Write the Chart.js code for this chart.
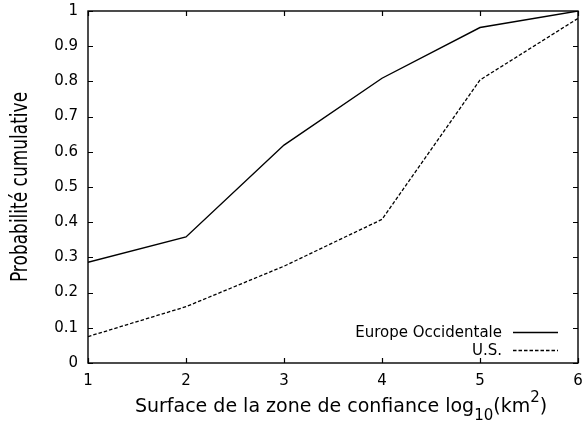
<!DOCTYPE html>
<html>
<head>
<meta charset="utf-8">
<title>Probabilité cumulative</title>
<script src="https://cdn.jsdelivr.net/npm/chart.js@4/dist/chart.umd.min.js"></script>
<style>
  html, body { margin: 0; padding: 0; background: #fff; }
  canvas { display: block; }
</style>
</head>
<body>
<canvas id="chart" width="586" height="421"></canvas>
<script>
// Cumulative probability against log10 of the confidence-zone area
const xValues = [1, 2, 3, 4, 5, 6];
const europeValues = [0.286, 0.358, 0.619, 0.809, 0.953, 1.0];
const usValues = [0.075, 0.160, 0.275, 0.408, 0.804, 0.979];
const seriesLabels = ['Europe Occidentale', 'U.S.'];

const xTickValues = [1, 2, 3, 4, 5, 6];
const xTickLabels = ['1', '2', '3', '4', '5', '6'];
const yTickValues = [0, 0.1, 0.2, 0.3, 0.4, 0.5, 0.6, 0.7, 0.8, 0.9, 1];
const yTickLabels = ['0', '0.1', '0.2', '0.3', '0.4', '0.5', '0.6', '0.7', '0.8', '0.9', '1'];

const yTitle = 'Probabilité cumulative';
// x title pieces: normal text, subscript and superscript runs
const xTitleParts = [
  { text: 'Surface de la zone de confiance log', kind: 'normal' },
  { text: '10', kind: 'sub' },
  { text: '(km', kind: 'normal' },
  { text: '2', kind: 'sup' },
  { text: ')', kind: 'normal' }
];

const FONT = '"DejaVu Sans", "Liberation Sans", sans-serif';
Chart.defaults.color = '#000';
Chart.defaults.font.family = FONT;

const toPoints = (ys) => xValues.map((x, i) => ({ x, y: ys[i] }));

// no extra room around the axes beyond the layout padding
const noBoxPadding = (s) => {
  s.paddingTop = 0; s.paddingBottom = 0; s.paddingLeft = 0; s.paddingRight = 0;
};

// Frame, inward ticks on all four sides, axis titles and key
const framePlugin = {
  id: 'frame',
  afterDraw(chart) {
    const { ctx, chartArea: a, scales } = chart;
    const xs = scales.x, ys = scales.y;
    const tick = 5;
    ctx.save();
    ctx.strokeStyle = '#000';
    ctx.lineWidth = 1.2;
    ctx.beginPath();
    xTickValues.forEach(v => {
      const px = Math.round(xs.getPixelForValue(v)) + 0.5;
      ctx.moveTo(px, a.bottom); ctx.lineTo(px, a.bottom - tick);
      ctx.moveTo(px, a.top); ctx.lineTo(px, a.top + tick);
    });
    yTickValues.forEach(v => {
      const py = Math.round(ys.getPixelForValue(v)) + 0.5;
      ctx.moveTo(a.left, py); ctx.lineTo(a.left + tick, py);
      ctx.moveTo(a.right, py); ctx.lineTo(a.right - tick, py);
    });
    ctx.stroke();
    ctx.lineWidth = 1.4;
    ctx.strokeRect(a.left, a.top, a.right - a.left, a.bottom - a.top);

    // y title, rotated
    ctx.fillStyle = '#000';
    ctx.save();
    ctx.translate(27, (a.top + a.bottom) / 2);
    ctx.scale(1.3, 1);
    ctx.rotate(-Math.PI / 2);
    ctx.font = '17px ' + FONT;
    ctx.textAlign = 'center';
    ctx.textBaseline = 'alphabetic';
    ctx.fillText(yTitle, 0, 0);
    ctx.restore();

    // x title with sub/superscript
    const mainSize = 19, smallSize = 15;
    const widths = xTitleParts.map(p => {
      ctx.font = (p.kind === 'normal' ? mainSize : smallSize) + 'px ' + FONT;
      return ctx.measureText(p.text).width;
    });
    const total = widths.reduce((s, w) => s + w, 0);
    let cx = (a.left + a.right) / 2 + 8 - total / 2;
    const base = 412;
    ctx.textAlign = 'left';
    ctx.textBaseline = 'alphabetic';
    xTitleParts.forEach((p, i) => {
      ctx.font = (p.kind === 'normal' ? mainSize : smallSize) + 'px ' + FONT;
      const dy = p.kind === 'sub' ? 8 : p.kind === 'sup' ? -10 : 0;
      ctx.fillText(p.text, cx, base + dy);
      cx += widths[i];
    });

    // key, bottom right inside the frame
    ctx.font = '15px ' + FONT;
    ctx.textAlign = 'right';
    ctx.textBaseline = 'middle';
    chart.data.datasets.forEach((ds, i) => {
      const y = a.bottom - 31 + i * 18;
      ctx.fillText(ds.label, a.right - 76, y + 1);
      ctx.save();
      ctx.lineWidth = ds.borderWidth;
      ctx.strokeStyle = ds.borderColor;
      ctx.setLineDash(ds.borderDash || []);
      ctx.beginPath();
      ctx.moveTo(a.right - 65, y + 0.5);
      ctx.lineTo(a.right - 20, y + 0.5);
      ctx.stroke();
      ctx.restore();
    });
    ctx.restore();
  }
};

new Chart(document.getElementById('chart'), {
  type: 'line',
  data: {
    datasets: [
      {
        label: seriesLabels[0],
        data: toPoints(europeValues),
        borderColor: '#000',
        borderWidth: 1.4,
        pointRadius: 0,
        tension: 0,
        fill: false
      },
      {
        label: seriesLabels[1],
        data: toPoints(usValues),
        borderColor: '#000',
        borderWidth: 1.3,
        borderDash: [3.5, 2],
        pointRadius: 0,
        tension: 0,
        fill: false
      }
    ]
  },
  options: {
    responsive: false,
    animation: false,
    layout: { padding: { left: 0, top: 11, right: 8, bottom: 0 } },
    plugins: { legend: { display: false }, tooltip: { enabled: false } },
    scales: {
      x: {
        type: 'linear',
        min: 1,
        max: 6,
        afterBuildTicks: (s) => { s.ticks = xTickValues.map(v => ({ value: v })); },
        afterFit: (s) => { s.height = 58; noBoxPadding(s); },
        ticks: {
          font: { size: 15, family: FONT },
          color: '#000',
          padding: 9,
          maxRotation: 0,
          callback: (v) => xTickLabels[xTickValues.indexOf(v)]
        },
        grid: { display: false, drawTicks: false },
        border: { display: false }
      },
      y: {
        type: 'linear',
        min: 0,
        max: 1,
        afterBuildTicks: (s) => { s.ticks = yTickValues.map(v => ({ value: v })); },
        afterFit: (s) => { s.width = 88; noBoxPadding(s); },
        ticks: {
          font: { size: 15, family: FONT },
          color: '#000',
          padding: 10,
          callback: (v) => yTickLabels[yTickValues.indexOf(v)]
        },
        grid: { display: false, drawTicks: false },
        border: { display: false }
      }
    }
  },
  plugins: [framePlugin]
});
</script>
</body>
</html>
